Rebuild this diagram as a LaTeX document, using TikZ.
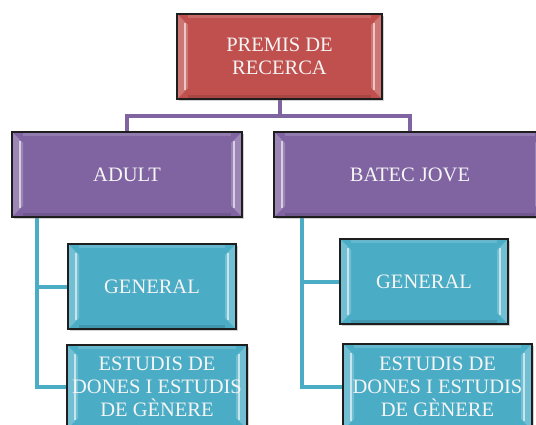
\documentclass[tikz,border=0pt]{standalone}
\usepackage{fontspec}
\setmainfont{Liberation Serif}
\usetikzlibrary{shadows,calc,backgrounds}
\definecolor{boxred}{RGB}{192,80,77}
\definecolor{boxpurple}{RGB}{128,100,162}
\definecolor{boxcyan}{RGB}{75,172,198}
\definecolor{linepurple}{RGB}{128,100,162}
\definecolor{linecyan}{RGB}{75,172,198}
\definecolor{boxborder}{RGB}{30,30,30}
\definecolor{txt}{RGB}{245,245,245}
\tikzset{
  bevelbox/.style={rectangle, draw=boxborder, line width=1.4pt, text=txt,
    font=\fontsize{20.5}{23}\selectfont, align=center, inner sep=0pt,
    drop shadow={shadow xshift=2pt, shadow yshift=-2pt, opacity=0.35},
    path picture={
      \fill[white,opacity=0.22] (path picture bounding box.north west) -- ++(11pt,-11pt)
        -- ($(path picture bounding box.south west)+(11pt,11pt)$) -- (path picture bounding box.south west) -- cycle;
      \fill[white,opacity=0.22] (path picture bounding box.north east) -- ++(-11pt,-11pt)
        -- ($(path picture bounding box.south east)+(-11pt,11pt)$) -- (path picture bounding box.south east) -- cycle;
      \draw[white,opacity=0.6,line width=1.2pt] ($(path picture bounding box.north west)+(8pt,-9pt)$) -- ($(path picture bounding box.south west)+(8pt,9pt)$);
      \draw[white,opacity=0.6,line width=1.2pt] ($(path picture bounding box.north east)+(-8pt,-9pt)$) -- ($(path picture bounding box.south east)+(-8pt,9pt)$);
      \fill[black,opacity=0.12] ($(path picture bounding box.south west)+(11pt,4pt)$) rectangle ($(path picture bounding box.south east)+(-11pt,0pt)$);
      \fill[white,opacity=0.15] ($(path picture bounding box.north west)+(11pt,0pt)$) rectangle ($(path picture bounding box.north east)+(-11pt,-4pt)$);
    }},
  redbox/.style={bevelbox, fill=boxred},
  purplebox/.style={bevelbox, fill=boxpurple},
  cyanbox/.style={bevelbox, fill=boxcyan},
  pline/.style={draw=linepurple, line width=4pt},
  cline/.style={draw=linecyan, line width=4pt, line cap=round}
}
\begin{document}
\begin{tikzpicture}[x=1pt,y=-1pt]
\useasboundingbox (0,0) rectangle (536,425);
\clip (0,0) rectangle (536,425);

\coordinate (bus) at (279.5,116);
\coordinate (lv) at (37,215);
\coordinate (rv) at (302,215);

\node[redbox, minimum width=205pt, minimum height=85pt] (top) at (279.5,56.5) {PREMIS DE\\RECERCA};
\node[purplebox, minimum width=230pt, minimum height=85pt] (adult) at (127,174.5) {ADULT};
\node[purplebox, minimum width=272pt, minimum height=85pt] (batec) at (410,174.5) {BATEC JOVE};
\node[cyanbox, minimum width=168pt, minimum height=85pt] (lgen) at (152,286.5) {GENERAL};
\node[cyanbox, minimum width=180pt, minimum height=84pt] (lest) at (157,387) {ESTUDIS DE\\DONES I ESTUDIS\\DE GÈNERE};
\node[cyanbox, minimum width=168pt, minimum height=85pt] (rgen) at (424,281.5) {GENERAL};
\node[cyanbox, minimum width=189pt, minimum height=86pt] (rest) at (437.5,387) {ESTUDIS DE\\DONES I ESTUDIS\\DE GÈNERE};

\begin{pgfonlayer}{background}
\fill[white] (0,0) rectangle (536,425);
\draw[pline] (top.south) -- (bus);
\draw[pline] (bus) -| (adult.north);
\draw[pline] (bus) -| (batec.north);
\draw[cline] (lv) |- (lgen.west);
\draw[cline] (lv) |- (lest.west);
\draw[cline] (rv) |- (rgen.west);
\draw[cline] (rv) |- (rest.west);
\end{pgfonlayer}
\end{tikzpicture}
\end{document}
